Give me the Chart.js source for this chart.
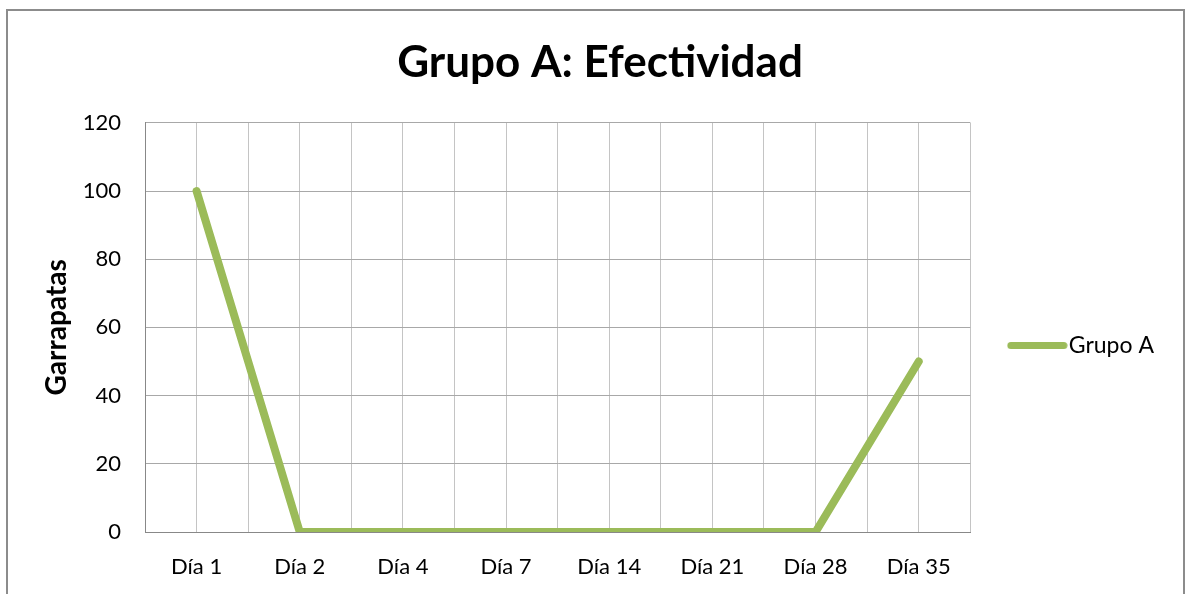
<!DOCTYPE html>
<html>
<head>
<meta charset="utf-8">
<script src="https://cdn.jsdelivr.net/npm/chart.js@4"></script>
<style>
  body { margin: 0; background: #fff; }
  #wrap { position: relative; width: 1186px; height: 594px; overflow: hidden; }
  #frame { position: absolute; left: 6px; top: 9px; width: 1175px; height: 620px; border: 2px solid #8c8c8c; pointer-events: none; }
  canvas { position: absolute; left: 0; top: 0; }
</style>
</head>
<body>
<div id="wrap">
  <canvas id="chart" width="1186" height="594"></canvas>
  <div id="frame"></div>
</div>
<script>
const categories = ["Día 1", "Día 2", "Día 4", "Día 7", "Día 14", "Día 21", "Día 28", "Día 35"];
const grupoA = [100, 0, 0, 0, 0, 0, 0, 50];
const yMin = 0, yMax = 120, yStep = 20;

const font = "Lato, 'Open Sans', sans-serif";
const green = "#9bbb59";

// legend symbol: thick round-capped line that runs right up to the text
const legendLine = document.createElement("canvas");
legendLine.width = 61;
legendLine.height = 9;
const lctx = legendLine.getContext("2d");
lctx.strokeStyle = green;
lctx.lineWidth = 7;
lctx.lineCap = "round";
lctx.beginPath();
lctx.moveTo(4, 4.5);
lctx.lineTo(57, 4.5);
lctx.stroke();

new Chart(document.getElementById("chart"), {
    type: "line",
    data: {
        datasets: [{
            label: "Grupo A",
            data: categories.map((c, i) => ({x: i, y: grupoA[i]})),
            borderColor: green,
            backgroundColor: green,
            borderWidth: 8,
            borderCapStyle: "round",
            borderJoinStyle: "round",
            pointRadius: 0,
            tension: 0
        }]
    },
    options: {
        responsive: false,
        animation: false,
        layout: { padding: { left: 36, right: 22, top: 0, bottom: 0 } },
        plugins: {
            title: {
                display: true,
                text: "Grupo A: Efectividad",
                color: "#000",
                font: { family: font, size: 44, weight: "bold" },
                padding: { top: 36, bottom: 34 }
            },
            legend: {
                position: "right",
                fullSize: false,
                title: {
                    display: true,
                    text: " ",
                    font: { size: 1 },
                    padding: { top: 17, bottom: 18 }
                },
                labels: {
                    usePointStyle: true,
                    pointStyle: legendLine,
                    pointStyleWidth: 40,
                    color: "#000",
                    font: { family: font, size: 23 },
                    padding: 47
                }
            },
            tooltip: { enabled: false }
        },
        scales: {
            x: {
                type: "linear",
                min: -0.5,
                max: categories.length - 0.5,
                afterFit: s => { s.height = 62; },
                border: { color: "#888" },
                grid: { color: "#c4c4c4", drawTicks: false },
                ticks: {
                    stepSize: 0.5,
                    autoSkip: false,
                    maxRotation: 0,
                    maxTicksLimit: 30,
                    padding: 22,
                    color: "#000",
                    font: { family: font, size: 22 },
                    callback: v => Number.isInteger(v) ? categories[v] : ""
                }
            },
            y: {
                min: yMin,
                max: yMax,
                afterFit: s => { s.width = 109; },
                border: { color: "#888" },
                grid: { color: "#a8a8a8", drawTicks: false },
                title: {
                    display: true,
                    text: "Garrapatas",
                    color: "#000",
                    font: { family: font, size: 28, weight: "bold" }
                },
                ticks: {
                    stepSize: yStep,
                    padding: 24,
                    color: "#000",
                    font: { family: font, size: 22 }
                }
            }
        }
    }
});
</script>
</body>
</html>
